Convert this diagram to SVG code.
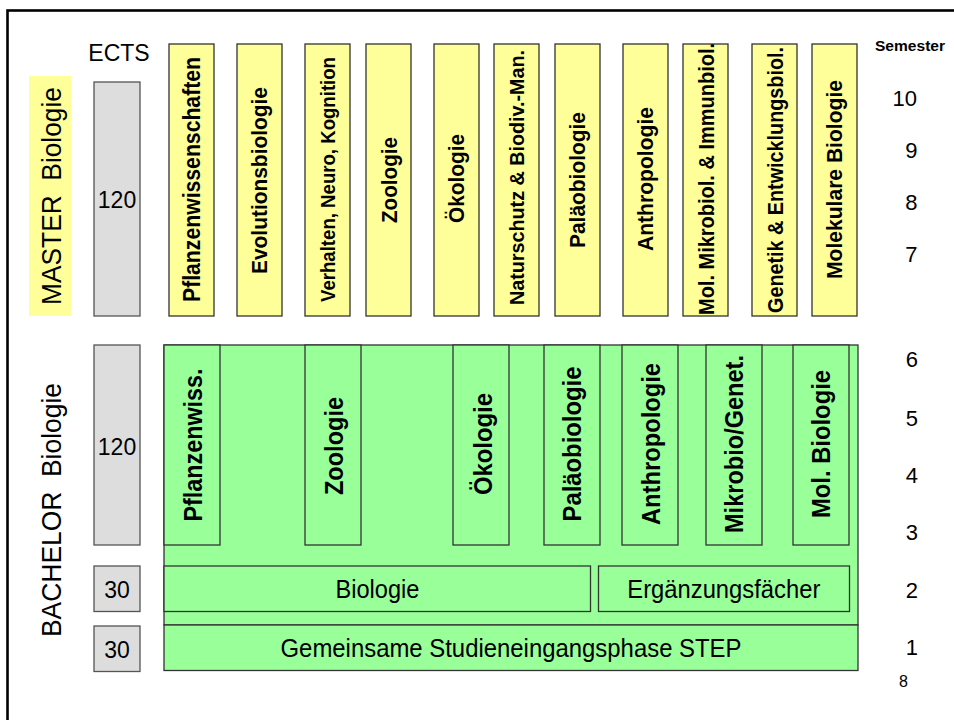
<svg xmlns="http://www.w3.org/2000/svg" width="954" height="720" viewBox="0 0 954 720">
<style>
text{font-family:"Liberation Sans",Arial,sans-serif;fill:#000}
.frame{fill:none;stroke:#000;stroke-width:2.6}
.ects{fill:#dddddd;stroke:#555;stroke-width:1.3}
.ma{fill:#ffff99;stroke:#333;stroke-width:1.3}
.ba{fill:#99ff99;stroke:#333;stroke-width:1.3}
.hl{fill:#ffff99;stroke:none}
.reg{font-size:23px}
.big{font-size:25px}
.prog{font-size:27px;white-space:pre}
.mlab{font-weight:bold;font-size:22px}
.blab{font-weight:bold;font-size:25px}
.num{font-size:22px}
</style>
<rect class="frame" x="7.5" y="10.5" width="960" height="720"/>

<g id="master-title">
<rect class="hl" x="29" y="76" width="42" height="240"/>
<text class="prog" xml:space="preserve" transform="translate(60.5,196) rotate(-90)" text-anchor="middle" textLength="218" lengthAdjust="spacingAndGlyphs">MASTER  Biologie</text>
</g>
<g id="bachelor-title">
<text class="prog" xml:space="preserve" transform="translate(60.5,510) rotate(-90)" text-anchor="middle" textLength="254" lengthAdjust="spacingAndGlyphs">BACHELOR  Biologie</text>
</g>

<g id="ects-header"><text class="reg" x="119" y="61" text-anchor="middle">ECTS</text></g>
<g id="ects-master"><rect class="ects" x="94" y="82" width="46" height="234"/><text class="reg" x="117" y="208" text-anchor="middle">120</text></g>
<g id="ects-bachelor"><rect class="ects" x="94" y="345" width="46" height="200"/><text class="reg" x="117" y="455" text-anchor="middle">120</text></g>
<g id="ects-30a"><rect class="ects" x="94" y="566" width="46" height="45.5"/><text class="reg" x="117" y="598" text-anchor="middle">30</text></g>
<g id="ects-30b"><rect class="ects" x="94" y="626" width="46" height="45.5"/><text class="reg" x="117" y="658" text-anchor="middle">30</text></g>

<g id="m1"><rect class="ma" x="169" y="44" width="45" height="272"/><text class="mlab" style="font-size:23px" transform="translate(199.8,179.5) rotate(-90)" text-anchor="middle" textLength="245" lengthAdjust="spacingAndGlyphs">Pflanzenwissenschaften</text></g>
<g id="m2"><rect class="ma" x="237" y="44" width="45" height="272"/><text class="mlab" transform="translate(267.4,180.5) rotate(-90)" text-anchor="middle" textLength="187" lengthAdjust="spacingAndGlyphs">Evolutionsbiologie</text></g>
<g id="m3"><rect class="ma" x="305" y="44" width="45" height="272"/><text class="mlab" style="font-size:19.5px" transform="translate(334.6,179.5) rotate(-90)" text-anchor="middle" textLength="245" lengthAdjust="spacingAndGlyphs">Verhalten, Neuro, Kognition</text></g>
<g id="m4"><rect class="ma" x="366" y="44" width="45" height="272"/><text class="mlab" transform="translate(396.5,180) rotate(-90)" text-anchor="middle" textLength="86" lengthAdjust="spacingAndGlyphs">Zoologie</text></g>
<g id="m5"><rect class="ma" x="434" y="44" width="45" height="272"/><text class="mlab" transform="translate(464,178.5) rotate(-90)" text-anchor="middle" textLength="89" lengthAdjust="spacingAndGlyphs">Ökologie</text></g>
<g id="m6"><rect class="ma" x="494" y="44" width="45" height="272"/><text class="mlab" style="font-size:21px" transform="translate(524.2,177.5) rotate(-90)" text-anchor="middle" textLength="255" lengthAdjust="spacingAndGlyphs">Naturschutz &amp; Biodiv.-Man.</text></g>
<g id="m7"><rect class="ma" x="555" y="44" width="45" height="272"/><text class="mlab" transform="translate(585.4,180) rotate(-90)" text-anchor="middle" textLength="136" lengthAdjust="spacingAndGlyphs">Paläobiologie</text></g>
<g id="m8"><rect class="ma" x="623" y="44" width="45" height="272"/><text class="mlab" transform="translate(653.4,179) rotate(-90)" text-anchor="middle" textLength="144" lengthAdjust="spacingAndGlyphs">Anthropologie</text></g>
<g id="m9"><rect class="ma" x="683" y="44" width="45" height="272"/><text class="mlab" style="font-size:21.5px" transform="translate(714,179) rotate(-90)" text-anchor="middle" textLength="272" lengthAdjust="spacingAndGlyphs">Mol. Mikrobiol. &amp; Immunbiol.</text></g>
<g id="m10"><rect class="ma" x="752" y="44" width="45" height="272"/><text class="mlab" style="font-size:21.5px" transform="translate(782.6,180) rotate(-90)" text-anchor="middle" textLength="266" lengthAdjust="spacingAndGlyphs">Genetik &amp; Entwicklungsbiol.</text></g>
<g id="m11"><rect class="ma" x="812" y="44" width="45" height="272"/><text class="mlab" transform="translate(841.5,179.5) rotate(-90)" text-anchor="middle" textLength="199" lengthAdjust="spacingAndGlyphs">Molekulare Biologie</text></g>

<g id="bachelor-frame"><rect class="ba" x="164" y="345" width="694" height="280"/></g>
<g id="b1"><rect class="ba" x="164" y="345" width="56" height="200"/><text class="blab" transform="translate(201.5,445) rotate(-90)" text-anchor="middle" textLength="153" lengthAdjust="spacingAndGlyphs">Pflanzenwiss.</text></g>
<g id="b2"><rect class="ba" x="305" y="345" width="56" height="200"/><text class="blab" transform="translate(342.5,446) rotate(-90)" text-anchor="middle" textLength="98" lengthAdjust="spacingAndGlyphs">Zoologie</text></g>
<g id="b3"><rect class="ba" x="453" y="345" width="56" height="200"/><text class="blab" transform="translate(491.5,444) rotate(-90)" text-anchor="middle" textLength="102" lengthAdjust="spacingAndGlyphs">Ökologie</text></g>
<g id="b4"><rect class="ba" x="544" y="345" width="56" height="200"/><text class="blab" transform="translate(580.5,444) rotate(-90)" text-anchor="middle" textLength="155" lengthAdjust="spacingAndGlyphs">Paläobiologie</text></g>
<g id="b5"><rect class="ba" x="622" y="345" width="56" height="200"/><text class="blab" transform="translate(659.5,444) rotate(-90)" text-anchor="middle" textLength="162" lengthAdjust="spacingAndGlyphs">Anthropologie</text></g>
<g id="b6"><rect class="ba" x="706" y="345" width="56" height="200"/><text class="blab" transform="translate(743,444) rotate(-90)" text-anchor="middle" textLength="178" lengthAdjust="spacingAndGlyphs">Mikrobio/Genet.</text></g>
<g id="b7"><rect class="ba" x="793" y="345" width="56" height="200"/><text class="blab" transform="translate(830,444) rotate(-90)" text-anchor="middle" textLength="148" lengthAdjust="spacingAndGlyphs">Mol. Biologie</text></g>
<g id="b-biologie"><rect class="ba" x="164" y="566" width="426.5" height="45.5"/><text class="big" x="377.4" y="598" text-anchor="middle" textLength="84" lengthAdjust="spacingAndGlyphs">Biologie</text></g>
<g id="b-ergaenzung"><rect class="ba" x="598.5" y="566" width="251" height="45.5"/><text class="big" x="723.8" y="598" text-anchor="middle" textLength="193" lengthAdjust="spacingAndGlyphs">Ergänzungsfächer</text></g>
<g id="b-step"><rect class="ba" x="164" y="625" width="694" height="45.5"/><text class="big" x="511" y="656.7" text-anchor="middle" textLength="461" lengthAdjust="spacingAndGlyphs">Gemeinsame Studieneingangsphase STEP</text></g>

<g id="semester">
<text x="875" y="50.7" style="font-weight:bold;font-size:15px" textLength="70" lengthAdjust="spacingAndGlyphs">Semester</text>
<text class="num" x="917" y="106" text-anchor="end">10</text>
<text class="num" x="917.5" y="158.3" text-anchor="end">9</text>
<text class="num" x="917.5" y="210" text-anchor="end">8</text>
<text class="num" x="917.5" y="261.7" text-anchor="end">7</text>
<text class="num" x="918" y="367.3" text-anchor="end">6</text>
<text class="num" x="918" y="426" text-anchor="end">5</text>
<text class="num" x="918" y="482.7" text-anchor="end">4</text>
<text class="num" x="918" y="540" text-anchor="end">3</text>
<text class="num" x="918" y="598.3" text-anchor="end">2</text>
<text class="num" x="918" y="655" text-anchor="end">1</text>
</g>
<g id="page-number"><text x="899" y="687" style="font-size:16px">8</text></g>
<g id="connectors"/>
</svg>
